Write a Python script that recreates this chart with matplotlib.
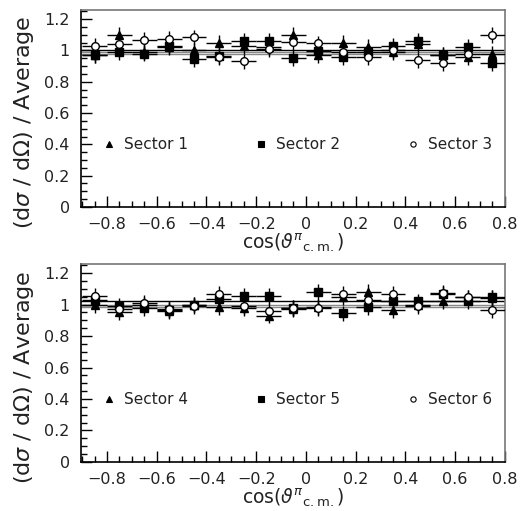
import matplotlib
matplotlib.use('Agg')
import matplotlib.pyplot as plt
from matplotlib.ticker import MultipleLocator
import numpy as np

plt.rcParams['mathtext.fontset'] = 'dejavusans'

# bin centres in cos(theta_cm)
cos_bins = [-0.85, -0.75, -0.65, -0.55, -0.45, -0.35, -0.25, -0.15, -0.05,
            0.05, 0.15, 0.25, 0.35, 0.45, 0.55, 0.65, 0.75]
half_width = 0.05
stat_err = 0.05

sector1 = [0.97, 1.10, 0.99, 1.02, 1.00, 1.05, 1.03, 1.02, 1.10,
           0.97, 1.05, 1.02, 0.99, 1.04, 0.97, 0.955, 0.98]
sector2 = [0.97, 0.99, 0.98, 1.03, 0.944, 0.964, 1.06, 1.06, 0.953,
           0.998, 0.955, 0.99, 1.03, 1.06, 0.974, 1.02, 0.92]
sector3 = [1.027, 1.04, 1.066, 1.076, 1.083, 0.96, 0.93, 1.01, 1.055,
           1.045, 0.99, 0.955, 1.00, 0.94, 0.92, 0.98, 1.10]

sector4 = [0.997, 0.95, 1.00, 0.96, 1.00, 0.987, 0.98, 0.93, 0.97,
           0.985, 1.046, 1.08, 0.965, 1.00, 1.024, 1.046, 1.04]
sector5 = [1.03, 0.99, 0.98, 0.965, 1.00, 1.034, 1.054, 1.054, 0.98,
           1.08, 0.944, 0.987, 1.02, 1.02, 1.067, 1.02, 1.046]
sector6 = [1.054, 0.97, 1.01, 0.97, 0.99, 1.067, 0.99, 0.96, 0.98,
           0.98, 1.07, 1.03, 1.07, 0.99, 1.075, 1.046, 0.965]

# constant fits drawn across each panel
fits_top = [1.005, 0.99, 0.975]
fits_bottom = [1.02, 1.0, 0.985]

names_top = ['Sector 1', 'Sector 2', 'Sector 3']
names_bottom = ['Sector 4', 'Sector 5', 'Sector 6']
legend_x = [-0.79, -0.18, 0.43]
legend_y = 0.40

MARKERS = [('^', 'black'), ('s', 'black'), ('o', 'white')]
TXT = '#222222'


def draw_panel(ax, series, fits, names):
    for fval, col in zip(fits, ['black', '#888888', '#888888']):
        ax.axhline(fval, color=col, lw=1.0, zorder=1)

    for vals, (mk, face) in zip(series, MARKERS):
        ax.errorbar(cos_bins, vals, xerr=half_width, yerr=stat_err,
                    fmt=mk, mfc=face, mec='black', ms=5.5, mew=1.0,
                    ecolor='black', elinewidth=1.0, capsize=0, zorder=3)

    for name, lx, (mk, face) in zip(names, legend_x, MARKERS):
        ax.plot([lx], [legend_y], mk, mfc=face, mec='black', ms=3.8, mew=0.8)
        ax.text(lx + 0.06, legend_y, name, fontsize=11, va='center',
                ha='left', color=TXT)

    ax.set_xlim(-0.905, 0.8)
    ax.set_ylim(0, 1.257)
    ax.xaxis.set_minor_locator(MultipleLocator(0.05))
    ax.yaxis.set_minor_locator(MultipleLocator(0.05))
    ax.tick_params(which='both', direction='in', top=False, right=False,
                   labelsize=11.5, labelcolor=TXT)
    ax.tick_params(axis='x', pad=7)
    ax.tick_params(axis='y', pad=8)
    ax.tick_params(which='major', length=8, width=1.0)
    ax.tick_params(which='minor', length=4, width=1.0)
    ax.set_xticks(np.arange(-0.8, 0.81, 0.2))
    ax.set_xticklabels(['\u22120.8', '\u22120.6', '\u22120.4', '\u22120.2', '0',
                        '0.2', '0.4', '0.6', '0.8'])
    ax.set_yticks(np.arange(0, 1.21, 0.2))
    ax.set_yticklabels(['0', '0.2', '0.4', '0.6', '0.8', '1', '1.2'])
    ax.spines['left'].set_color('black')
    ax.spines['bottom'].set_color('black')
    ax.spines['top'].set_color('#777777')
    ax.spines['right'].set_color('#777777')
    for s in ax.spines.values():
        s.set_linewidth(1.2)

    ax.set_xlabel(r'cos$\left(\vartheta^{\pi}{}_{\mathrm{c.m.}}\right)$',
                  fontsize=13.5, color=TXT, labelpad=0)
    ax.set_ylabel(r'(d$\sigma$ / d$\Omega$) / Average', fontsize=16,
                  color=TXT)
    ax.yaxis.set_label_coords(-0.105, 0.43)


fig = plt.figure(figsize=(5.32, 5.11), dpi=100)
ax_top = fig.add_axes([0.152, 0.595, 0.797, 0.385])
ax_bot = fig.add_axes([0.152, 0.096, 0.797, 0.387])

draw_panel(ax_top, [sector1, sector2, sector3], fits_top, names_top)
draw_panel(ax_bot, [sector4, sector5, sector6], fits_bottom, names_bottom)

fig.savefig('out.png', dpi=100)
